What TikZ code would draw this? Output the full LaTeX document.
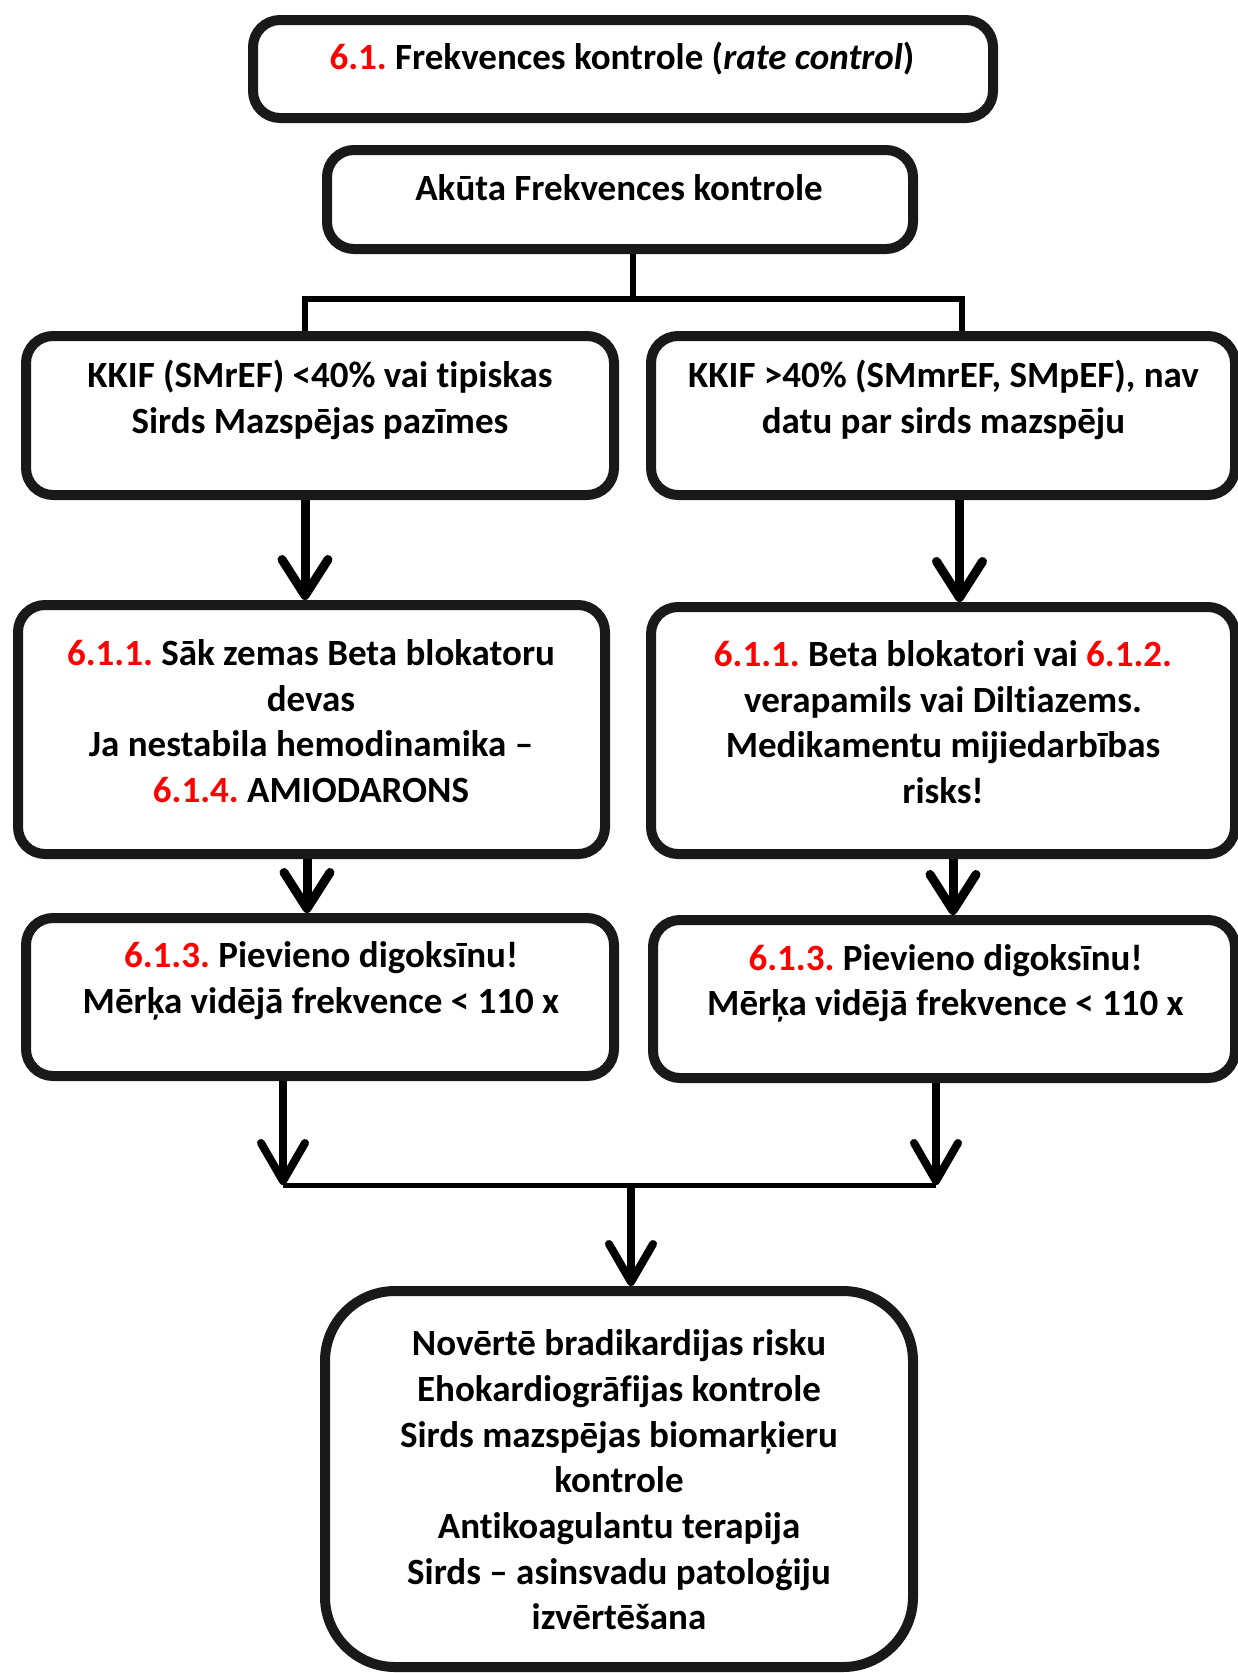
\documentclass[tikz,border=0pt]{standalone}
\usepackage{fontspec}
\setmainfont{Carlito}[Ligatures={NoCommon}]
\usetikzlibrary{arrows.meta,shadows}
\definecolor{numred}{RGB}{255,0,0}
\newcommand{\rednum}[1]{\textcolor{numred}{#1}}
\frenchspacing
\begin{document}
\begin{tikzpicture}[x=1pt,y=-1pt,
  box/.style={draw=black!90, line width=10pt, fill=white, rounded corners=27pt,
    inner sep=0pt,
    drop shadow={shadow xshift=3pt,shadow yshift=-3pt,fill=black!22}},
  bigbox/.style={box, rounded corners=70pt},
  txt/.style={font=\fontsize{37}{45.7}\selectfont\bfseries, align=center, inner sep=0pt},
  arr/.style={line width=9pt, -{Straight Barb[length=36pt,width=46pt,round]}},
  arrthin/.style={line width=8pt, -{Straight Barb[length=38pt,width=44pt,round]}},
  link/.style={line width=6pt},
  joinline/.style={line width=5pt}]
\useasboundingbox (0,0) rectangle (1237,1673);
\fill[white] (0,0) rectangle (1237,1673);

% boxes
\node[box, minimum width=740pt, minimum height=98pt] (b0) at (623,69) {};
\node[box, minimum width=586pt, minimum height=99pt] (b1) at (620,199.5) {};
\node[box, minimum width=588pt, minimum height=159pt] (L1) at (320,415.5) {};
\node[box, minimum width=584pt, minimum height=159pt] (R1) at (943,415.5) {};
\node[box, minimum width=587pt, minimum height=249pt] (L2) at (311.5,729.5) {};
\node[box, minimum width=584pt, minimum height=247pt] (R2) at (943,730.5) {};
\node[box, minimum width=588pt, minimum height=158pt] (L3) at (320,997) {};
\node[box, minimum width=582pt, minimum height=158pt] (R3) at (944,999) {};
\node[bigbox, minimum width=588pt, minimum height=376pt] (B) at (619,1479) {};

% texts
\node[txt] (t0) at (622,59) {\rednum{6.1.} Frekvences kontrole (\textit{rate control})};
\node[txt] (t1) at (619,188) {Akūta Frekvences kontrole};
\node[txt] (tL1) at (320,400) {KKIF (SMrEF) <40\% vai tipiskas\\Sirds Mazspējas pazīmes};
\node[txt] (tR1) at (943.5,400) {KKIF >40\% (SMmrEF, SMpEF), nav\\datu par sirds mazspēju};
\node[txt] (tL2) at (311,721) {\rednum{6.1.1.} Sāk zemas Beta blokatoru\\devas\\Ja nestabila hemodinamika –\\\rednum{6.1.4.} AMIODARONS};
\node[txt] (tR2) at (943,722) {\rednum{6.1.1.} Beta blokatori vai \rednum{6.1.2.}\\verapamils vai Diltiazems.\\Medikamentu mijiedarbības\\risks!};
\node[txt] (tL3) at (321,981) {\rednum{6.1.3.} Pievieno digoksīnu!\\Mērķa vidējā frekvence < 110 x};
\node[txt] (tR3) at (945.5,983.5) {\rednum{6.1.3.} Pievieno digoksīnu!\\Mērķa vidējā frekvence < 110 x};
\node[txt] (tB) at (619,1480) {Novērtē bradikardijas risku\\Ehokardiogrāfijas kontrole\\Sirds mazspējas biomarķieru\\kontrole\\Antikoagulantu terapija\\Sirds – asinsvadu patoloģiju\\izvērtēšana};

% branching under the acute box
\coordinate (j0) at (633,299);
\coordinate (jL) at (305,299);
\coordinate (jR) at (962,299);
\draw[link] (b1.south -| j0) -- (j0);
\draw[link] (L1.north -| jL) |- (jR) -- (R1.north -| jR);

% arrows down the two columns
\coordinate (aL1) at (305,0);
\coordinate (aR1) at (959.5,0);
\coordinate (aL2) at (307,0);
\coordinate (aR2) at (953,0);
\draw[arr] (L1.south -| aL1) -- (L2.north -| aL1);
\draw[arr] (R1.south -| aR1) -- (R2.north -| aR1);
\draw[arr] (L2.south -| aL2) -- (L3.north -| aL2);
\draw[arr] (R2.south -| aR2) -- (R3.north -| aR2);

% merging into the final box
\coordinate (mL) at (283,1185);
\coordinate (mR) at (936,1185);
\coordinate (mC) at (631,1185);
\draw[arrthin] (L3.south -| mL) -- (mL);
\draw[arrthin] (R3.south -| mR) -- (mR);
\draw[joinline] (mL) -- (mR);
\draw[arrthin] (mC) -- (B.north -| mC);
\end{tikzpicture}
\end{document}
